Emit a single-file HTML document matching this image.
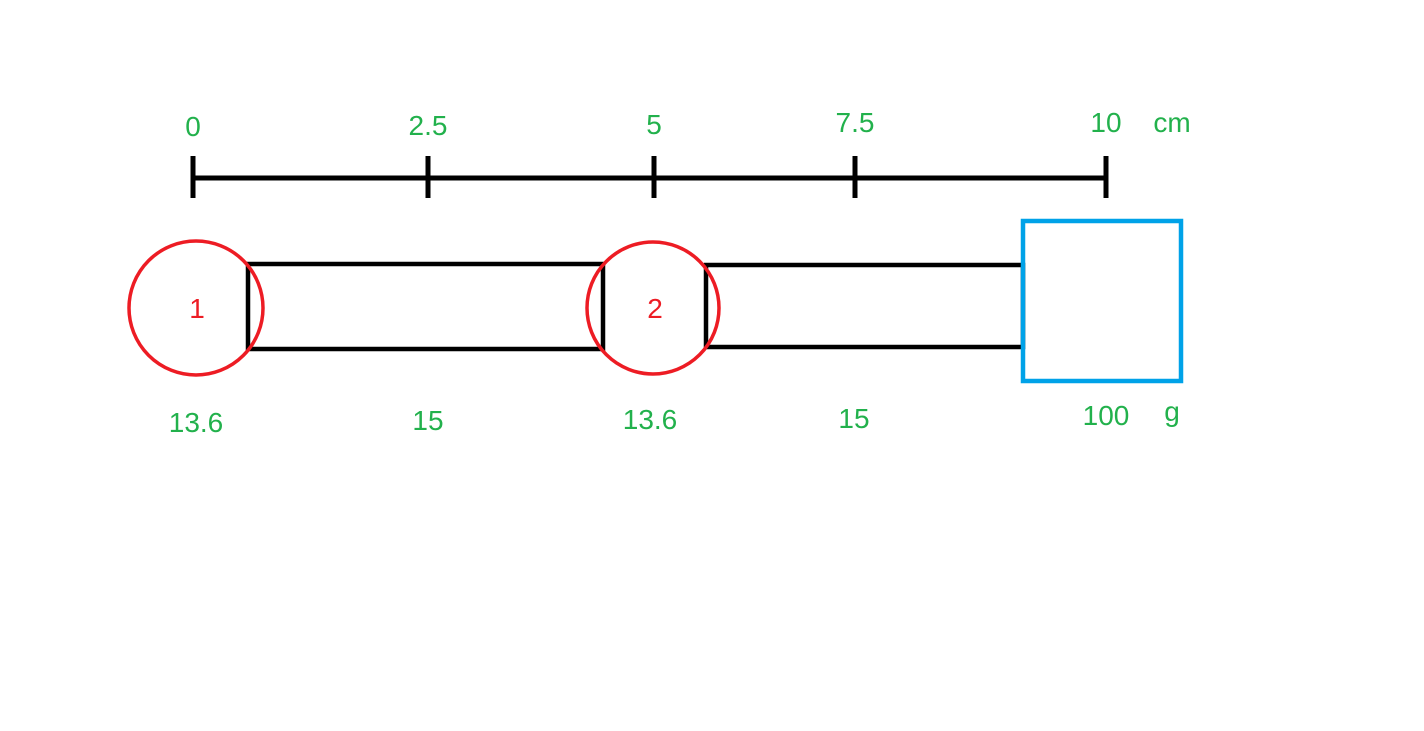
<!DOCTYPE html>
<html><head><meta charset="utf-8"><style>
html,body{margin:0;padding:0;background:#fff;}
svg{display:block;}
text{font-family:"Liberation Sans","Noto Sans CJK SC",sans-serif;font-size:28px;}
.g{fill:#22b14c;}
.r{fill:#ed1c24;}
</style></head><body>
<svg width="1424" height="731" viewBox="0 0 1424 731">
<g>
<line x1="193" y1="178" x2="1106" y2="178" stroke="#000" stroke-width="5"/>
<g id="ticks"></g>
<text class="g" x="1172" y="132" text-anchor="middle">cm</text>
</g>
<rect x="248" y="264" width="355" height="85" fill="none" stroke="#000" stroke-width="4.5"/>
<rect x="706" y="265" width="317" height="82" fill="none" stroke="#000" stroke-width="4.5"/>
<circle cx="196" cy="308" r="67" fill="none" stroke="#ed1c24" stroke-width="3.5"/>
<circle cx="653" cy="308" r="66" fill="none" stroke="#ed1c24" stroke-width="3.5"/>
<text class="r" x="197" y="318" text-anchor="middle">1</text>
<text class="r" x="655" y="318" text-anchor="middle">2</text>
<rect x="1023" y="221" width="158" height="160" fill="none" stroke="#00a2e8" stroke-width="4.5"/>
<text class="g" x="196" y="432" text-anchor="middle">13.6</text>
<text class="g" x="428" y="430" text-anchor="middle">15</text>
<text class="g" x="650" y="429" text-anchor="middle">13.6</text>
<text class="g" x="854" y="428" text-anchor="middle">15</text>
<text class="g" x="1106" y="425" text-anchor="middle">100</text>
<text class="g" x="1172" y="421" text-anchor="middle">g</text>
</svg>
<script>
const tickLabels = ["0","2.5","5","7.5","10"];
const tickX = [193,428,654,855,1106];
const tickLabelY = [136,135,134,132,132];
const g = document.getElementById('ticks');
const NS = 'http://www.w3.org/2000/svg';
for (let i = 0; i < tickLabels.length; i++) {
  const l = document.createElementNS(NS,'line');
  l.setAttribute('x1', tickX[i]); l.setAttribute('x2', tickX[i]);
  l.setAttribute('y1', 156); l.setAttribute('y2', 198);
  l.setAttribute('stroke', '#000'); l.setAttribute('stroke-width', 5);
  
  
  g.appendChild(l);
  const t = document.createElementNS(NS,'text');
  t.setAttribute('x', tickX[i]); t.setAttribute('y', tickLabelY[i]);
  t.setAttribute('text-anchor', 'middle'); t.setAttribute('class', 'g');
  t.textContent = tickLabels[i];
  
  
  g.appendChild(t);
}
</script>
</body></html>
